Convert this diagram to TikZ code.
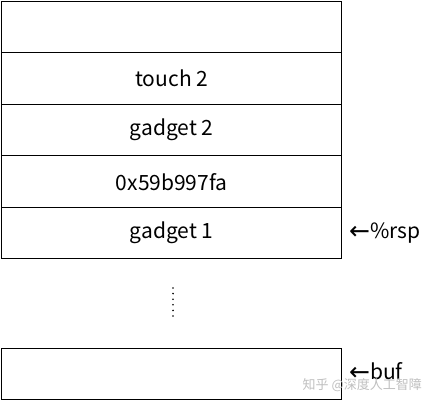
\documentclass[tikz,border=0pt]{standalone}
\usepackage{fontspec}
\setmainfont{Noto Sans CJK SC}
\newfontfamily\cjk{Noto Sans CJK SC}
\newfontfamily\arr{DejaVu Sans}
\begin{document}
\begin{tikzpicture}[x=1pt,y=-1pt,
  cell/.style={draw=black,line width=1.4pt,minimum width=340pt,inner sep=0pt,font=\fontsize{21}{24}\selectfont,anchor=north west},
  lbl/.style={font=\fontsize{21}{24}\selectfont,anchor=west,inner sep=0pt}]
\useasboundingbox (0,0) rectangle (432,404);
\node[cell,minimum height=51pt] (r0) at (1,1) {};
\node[cell,minimum height=52pt] (r1) at (1,52) {touch 2};
\node[cell,minimum height=51pt] (r2) at (1,104) {gadget 2};
\node[cell,minimum height=52pt] (r3) at (1,155) {0x59b997fa};
\node[cell,minimum height=51pt] (r4) at (1,207) {gadget 1};
\node[cell,minimum height=51pt] (r5) at (1,348) {};
\foreach \i in {0,...,5} \fill (173,{288+\i*5.6}) circle (0.9pt);
\node[lbl] (rsp) at (349,233) {{\arr\fontsize{25}{26}\selectfont\raisebox{-1pt}{←}}\%rsp};
\node[lbl] (buf) at (349,372) {{\arr\fontsize{25}{26}\selectfont\raisebox{-1pt}{←}}buf};
\node[font=\cjk\fontsize{13}{15}\selectfont,text=black!25,anchor=east,inner sep=0pt] (wm) at (422,385) {知乎 @深度人工智障};
\end{tikzpicture}
\end{document}
